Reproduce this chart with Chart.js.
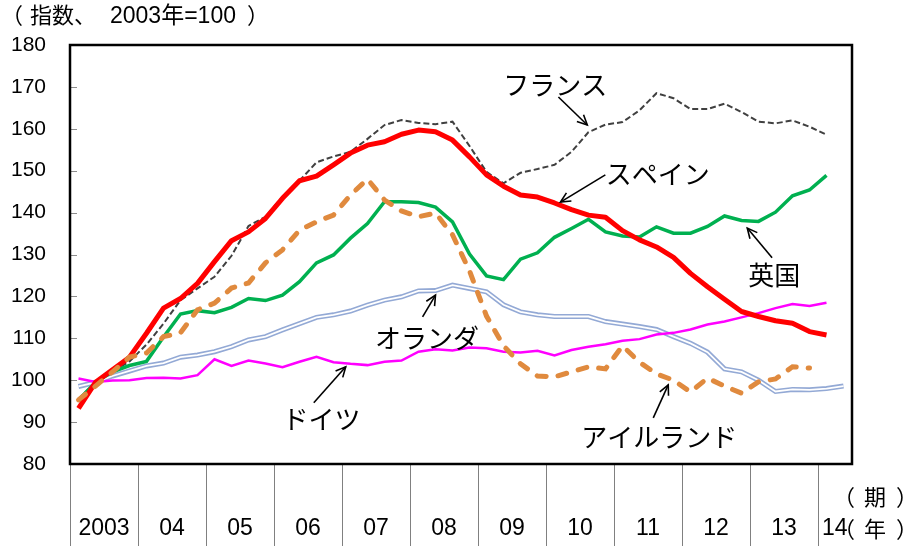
<!DOCTYPE html>
<html><head><meta charset="utf-8">
<script src="https://cdn.jsdelivr.net/npm/chart.js@4.4.1/dist/chart.umd.min.js"></script>
<style>html,body{margin:0;padding:0;background:#fff;overflow:hidden}#wrap{width:911px;height:546px}</style>
</head><body><div id="wrap"><canvas id="c" width="911" height="546"></canvas></div>
<script>
// ---- data (quarterly index, 2003 = 100) ----
const yearLabels = ["2003","04","05","06","07","08","09","10","11","12","13","14"];
const quarterCount = 46; // 2003Q1 .. 2014Q2
const quarterLabels = [];
for (let i = 0; i < quarterCount; i++) quarterLabels.push(yearLabels[Math.floor(i/4)] + "Q" + (i%4+1));

const spain = [93.3,99.5,102.5,105.5,111.2,117.2,119.5,123.1,128.3,133.3,135.4,138.6,143.4,147.6,148.7,151.4,154.2,156.1,156.9,158.7,159.7,159.3,157.3,153.3,149.0,146.3,144.2,143.7,142.3,140.7,139.4,138.9,135.7,133.5,131.8,129.3,125.5,122.3,119.3,116.4,115.2,114.2,113.6,111.6,110.8];
const france = [95.5,99.5,102,104.5,108.5,113.5,119.1,121.9,124.7,129.7,136.8,139.0,143.8,147.6,152.0,153.4,154.5,157.6,160.9,162.1,161.4,161.1,161.7,155.9,149.7,147.0,149.5,150.4,151.4,154.5,159.2,161.0,161.6,164.4,168.5,167.3,164.7,164.7,166.0,164.0,161.7,161.3,162.0,160.5,158.6];
const uk = [95.3,99.5,102,103.5,104.5,110.3,115.8,116.6,116.1,117.4,119.5,119.0,120.3,123.5,128.0,129.9,133.9,137.4,142.6,142.6,142.4,141.3,137.8,130.1,124.9,124.0,128.9,130.4,134.1,136.2,138.4,135.4,134.4,134.2,136.6,135.1,135.1,136.7,139.2,138.1,137.9,140.1,144.0,145.4,148.9];
const ireland = [95.3,98.6,102.0,105.5,106.5,110.4,111.3,116.8,118.4,122.0,123.2,128.0,131.1,135.8,137.8,139.4,144.2,148.0,143.0,140.4,139.0,139.9,134.7,126.1,115.3,108.2,103.9,101.0,100.8,102.0,103.2,102.7,108.2,104.3,101.5,100.0,97.2,100.5,98.6,96.9,99.6,100.3,103.2,102.9];
const netherlands = [98.5,99.5,101.0,102.2,103.4,104.1,105.5,106.0,106.8,108.0,109.6,110.4,112.0,113.5,115.0,115.6,116.5,117.9,119.1,119.9,121.3,121.4,122.7,121.9,121.1,118.0,116.3,115.6,115.2,115.2,115.2,114.0,113.4,112.8,112.1,110.4,108.8,106.7,102.7,102.0,100.0,97.3,97.8,97.7,98.0,98.6];
const germany = [100.4,99.6,99.9,100.0,100.5,100.6,100.4,101.2,105.0,103.4,104.7,104.0,103.1,104.4,105.6,104.3,103.9,103.6,104.4,104.7,106.8,107.4,107.1,107.8,107.6,106.8,106.6,107.0,105.9,107.2,108.0,108.6,109.4,109.8,110.9,111.3,112.1,113.3,114.0,115.0,116.0,117.2,118.2,117.7,118.5];

const yMin = 80, yMax = 180, yStep = 10;
// title "（指数、2003年=100）" drawn in pieces to mimic the reference spacing: [text, x, fontSize]
const titleParts = [["（", 1, 22], ["指数、", 30, 22], ["2003年=100", 110, 23], ["）", 247, 22]];
const unitPeriod = ["（", "期", "）"];
const unitYear = ["（", "年", "）"];

// annotation labels: [text, labelIndex, labelValue, arrowFromIndex, arrowFromValue, arrowToIndex, arrowToValue]
const notes = [
  ["フランス", 28.05, 170.45, 28.23, 167.6, 29.93, 160.9],
  ["スペイン", 34.08, 149.2, 30.99, 149.0, 28.35, 142.5],
  ["英国", 40.92, 125.1, 40.8, 129.2, 39.34, 136.3],
  ["オランダ", 20.5, 110.0, 20.24, 115.1, 21.0, 120.3],
  ["ドイツ", 14.3, 90.7, 13.84, 94.6, 15.72, 103.2],
  ["アイルランド", 34.16, 86.4, 33.81, 91.0, 34.69, 98.9]
];

const LATIN = '"Liberation Sans", "Noto Sans CJK JP", sans-serif';
const JP = '"Noto Sans CJK JP", "Liberation Sans", sans-serif';

const deco = {
  id: 'deco',
  afterDraw(chart) {
    const { ctx, chartArea: a, scales: { x, y } } = chart;
    ctx.save();
    // inner y tick marks
    ctx.strokeStyle = '#8c8c8c'; ctx.lineWidth = 1;
    for (let v = yMin + yStep; v < yMax; v += yStep) {
      const py = Math.round(y.getPixelForValue(v)) + 0.5;
      ctx.beginPath(); ctx.moveTo(a.left, py); ctx.lineTo(a.left + 7, py); ctx.stroke();
    }
    // year separators and labels below plot
    const cw = x.getPixelForValue(1) - x.getPixelForValue(0);
    ctx.strokeStyle = '#808080'; ctx.lineWidth = 1;
    for (let k = 0; k * 4 < quarterCount; k++) {
      const bx = Math.round(x.getPixelForValue(k * 4) - cw / 2) + 0.5;
      ctx.beginPath(); ctx.moveTo(bx, a.bottom); ctx.lineTo(bx, chart.height); ctx.stroke();
    }
    ctx.fillStyle = '#000';
    ctx.font = '23px ' + LATIN;
    ctx.textBaseline = 'middle';
    for (let k = 0; k < yearLabels.length; k++) {
      const first = k * 4;
      if (first + 3 < quarterCount) {
        const cx = (x.getPixelForValue(first + 1) + x.getPixelForValue(first + 2)) / 2;
        ctx.textAlign = 'center';
        ctx.fillText(yearLabels[k], cx, 529);
      } else {
        const bx = x.getPixelForValue(first) - cw / 2;
        ctx.textAlign = 'left';
        ctx.fillText(yearLabels[k], bx + 4, 529);
      }
    }
    // unit labels
    ctx.textAlign = 'left';
    ctx.font = '22px ' + JP;
    const drawUnit = (parts, yy) => {
      ctx.fillText(parts[0], 833, yy);
      ctx.fillText(parts[1], 864, yy);
      ctx.fillText(parts[2], 896, yy);
    };
    drawUnit(unitPeriod, 497);
    drawUnit(unitYear, 529);
    // title
    for (const [t, tx, fs] of titleParts) { ctx.font = fs + 'px ' + LATIN; ctx.fillText(t, tx, 17); }
    // annotations
    ctx.font = '26px ' + JP;
    ctx.textAlign = 'center';
    ctx.strokeStyle = '#000'; ctx.lineWidth = 1.6;
    for (const n of notes) {
      const tx = x.getPixelForValue(n[1]) , ty = y.getPixelForValue(n[2]);
      ctx.fillText(n[0], tx, ty);
      const x1 = x.getPixelForValue(n[3]), y1 = y.getPixelForValue(n[4]);
      const x2 = x.getPixelForValue(n[5]), y2 = y.getPixelForValue(n[6]);
      ctx.beginPath(); ctx.moveTo(x1, y1); ctx.lineTo(x2, y2); ctx.stroke();
      const ang = Math.atan2(y2 - y1, x2 - x1), hl = 11, ha = 0.45;
      ctx.beginPath();
      ctx.moveTo(x2 - hl * Math.cos(ang - ha), y2 - hl * Math.sin(ang - ha));
      ctx.lineTo(x2, y2);
      ctx.lineTo(x2 - hl * Math.cos(ang + ha), y2 - hl * Math.sin(ang + ha));
      ctx.stroke();
    }
    // plot border
    ctx.strokeStyle = '#000'; ctx.lineWidth = 2.5;
    ctx.strokeRect(a.left, a.top, a.right - a.left, a.bottom - a.top);
    ctx.restore();
  }
};

function build() {
  const line = (label, data, color, width, extra) => Object.assign({
    label, data, borderColor: color, backgroundColor: color, borderWidth: width,
    pointRadius: 0, pointHoverRadius: 0, tension: 0, fill: false, spanGaps: false
  }, extra || {});
  new Chart(document.getElementById('c'), {
    type: 'line',
    data: {
      labels: quarterLabels,
      datasets: [
        line('アイルランド', ireland, '#E08A3E', 5, { borderDash: [9, 12], borderCapStyle: 'round' }),
        line('スペイン', spain, '#FF0000', 5, { borderJoinStyle: 'round' }),
        line('英国', uk, '#00B050', 3.5),
        line('フランス', france, '#404040', 2, { borderDash: [6, 3] }),
        line('ドイツ', germany, '#FF00FF', 2.5),
        line('オランダ_inner', netherlands, '#FFFFFF', 1.8),
        line('オランダ', netherlands, '#93A9D5', 5)
      ]
    },
    options: {
      responsive: false, animation: false, devicePixelRatio: 1,
      layout: { padding: { left: 0, top: 45, right: 59, bottom: 82 } },
      plugins: { legend: { display: false }, tooltip: { enabled: false }, title: { display: false } },
      scales: {
        x: { type: 'category', offset: true, display: false },
        y: {
          min: yMin, max: yMax,
          afterFit(s) { s.width = 70; },
          grid: { display: false, drawTicks: false },
          border: { display: false },
          ticks: { stepSize: yStep, color: '#000', padding: 24, font: { size: 21, family: LATIN } }
        }
      }
    },
    plugins: [deco]
  });
}
Promise.all([
  document.fonts.load('26px "Noto Sans CJK JP"'),
  document.fonts.load('22px "Liberation Sans"')
]).then(build, build);
</script></body></html>
